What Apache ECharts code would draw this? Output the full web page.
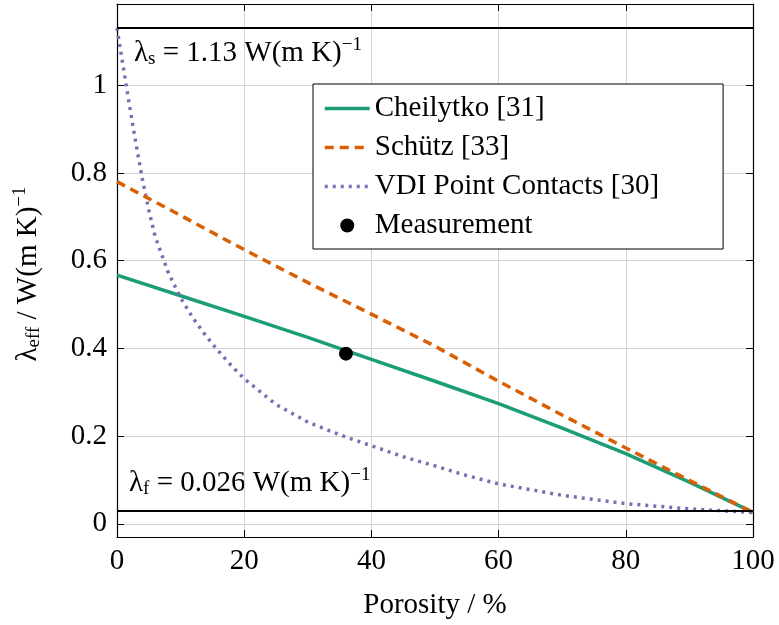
<!DOCTYPE html>
<html>
<head>
<meta charset="utf-8">
<script src="https://cdn.jsdelivr.net/npm/echarts@6/dist/echarts.min.js"></script>
<style>
  html, body { margin: 0; padding: 0; background: #fff; }
  #chart { width: 779px; height: 625px; }
</style>
</head>
<body>
<div id="chart"></div>
<script>
// porosity in %, conductivity in W/(m K)
const porosity = [0, 10, 20, 30, 40, 50, 60, 70, 80, 90, 100];
const cheilytko = [0.567, 0.52, 0.473, 0.425, 0.375, 0.325, 0.274, 0.218, 0.16, 0.095, 0.026];
const schutz = [0.78, 0.703, 0.625, 0.55, 0.478, 0.405, 0.325, 0.248, 0.173, 0.099, 0.026];
const vdiPorosity = [0, 1, 2, 3, 4, 5, 6, 8, 10, 12, 14, 16, 18, 20, 25, 30, 35, 40, 45, 50, 55, 60, 70, 80, 90, 100];
const vdi = [1.13, 1.04, 0.95, 0.865, 0.785, 0.715, 0.655, 0.575, 0.515, 0.468, 0.428, 0.393, 0.36, 0.331, 0.272, 0.232, 0.203, 0.178, 0.153, 0.132, 0.11, 0.091, 0.065, 0.046, 0.034, 0.026];
const measurement = [[36, 0.388]];
const lambdaS = 1.13;
const lambdaF = 0.026;
const yTicks = [0, 0.2, 0.4, 0.6, 0.8, 1];

const FONT = '"Liberation Serif", "DejaVu Serif", serif';
const pairs = (xs, ys) => xs.map((x, i) => [x, ys[i]]);

const rich = {
    m: { fontFamily: FONT, fontSize: 29, color: '#000' },
    sub: { fontFamily: FONT, fontSize: 19, color: '#000', padding: [12, 0, 0, 0] },
    sup: { fontFamily: FONT, fontSize: 19, color: '#000', padding: [0, 0, 16, 0] }
};

const chart = echarts.init(document.getElementById('chart'), null, { renderer: 'canvas' });

const frameAxis = {
    axisLine: { show: true, onZero: false, lineStyle: { color: '#000', width: 1.2 } },
    axisTick: { show: true, inside: true, length: 7, lineStyle: { color: '#000', width: 1 } }
};

// hide the symbol in the legend for pure line entries
const lineEntry = name => ({ name: name, itemStyle: { opacity: 0 }, lineStyle: { width: 3.5 } });

const option = {
    animation: false,
    backgroundColor: '#fff',
    textStyle: { fontFamily: FONT },
    grid: {
        left: 117, right: 26, top: 4, bottom: 88,
        containLabel: false,
        outerBoundsMode: 'none'
    },
    xAxis: [
        {
            type: 'value', min: 0, max: 100, interval: 20,
            position: 'bottom',
            ...frameAxis,
            axisLabel: { color: '#000', fontSize: 29, fontFamily: FONT, margin: 10 },
            splitLine: { show: true, lineStyle: { color: '#d4d4d4', width: 1 } },
            name: 'Porosity / %',
            nameLocation: 'middle',
            nameGap: 54,
            nameTextStyle: { color: '#000', fontSize: 29, fontFamily: FONT }
        },
        {
            type: 'value', min: 0, max: 100, interval: 20,
            position: 'top',
            ...frameAxis,
            axisLabel: { show: false },
            splitLine: { show: false }
        }
    ],
    yAxis: [
        {
            type: 'value', min: -0.03, max: 1.185, splitNumber: 6,
            position: 'left',
            ...frameAxis,
            axisLabel: {
                color: '#000', fontSize: 29, fontFamily: FONT, margin: 10,
                formatter: v => yTicks.some(t => Math.abs(t - v) < 1e-6) ? String(Math.round(v * 10) / 10) : ''
            },
            splitLine: { show: true, lineStyle: { color: '#d4d4d4', width: 1 } }
        },
        {
            type: 'value', min: -0.03, max: 1.185, splitNumber: 6,
            position: 'right',
            ...frameAxis,
            axisLabel: { show: false },
            splitLine: { show: false }
        }
    ],
    legend: {
        orient: 'vertical',
        left: 313,
        top: 84,
        padding: [10, 64, 9, 10],
        itemGap: 10,
        itemWidth: 45,
        itemHeight: 14,
        backgroundColor: '#fff',
        borderColor: '#000',
        borderWidth: 1,
        borderRadius: 0,
        textStyle: { color: '#000', fontSize: 29, fontFamily: FONT },
        data: [
            lineEntry('Cheilytko [31]'),
            lineEntry('Schütz [33]'),
            lineEntry('VDI Point Contacts [30]'),
            { name: 'Measurement' }
        ]
    },
    series: [
        {
            name: 'Cheilytko [31]',
            type: 'line',
            data: pairs(porosity, cheilytko),
            symbol: 'none',
            lineStyle: { color: '#1b9e77', width: 3.5 },
            itemStyle: { color: '#1b9e77' },
            z: 3
        },
        {
            name: 'Schütz [33]',
            type: 'line',
            data: pairs(porosity, schutz),
            symbol: 'none',
            lineStyle: { color: '#d95f02', width: 3.5, type: [9, 6] },
            itemStyle: { color: '#d95f02' },
            z: 4
        },
        {
            name: 'VDI Point Contacts [30]',
            type: 'line',
            data: pairs(vdiPorosity, vdi),
            symbol: 'none',
            lineStyle: { color: '#7570b3', width: 3.5, type: [3, 5] },
            itemStyle: { color: '#7570b3' },
            z: 3
        },
        {
            name: 'Measurement',
            type: 'scatter',
            data: measurement,
            symbol: 'circle',
            symbolSize: 14,
            itemStyle: { color: '#000', opacity: 1 },
            z: 6
        },
        {
            // reference lines for solid and fluid conductivity
            name: 'refs',
            type: 'line',
            data: [],
            markLine: {
                silent: true,
                symbol: 'none',
                label: { show: false },
                lineStyle: { color: '#000', width: 2, type: 'solid' },
                data: [{ yAxis: lambdaS }, { yAxis: lambdaF }]
            },
            z: 5
        }
    ],
    graphic: [
        {
            type: 'text',
            left: 134,
            top: 36,
            style: {
                text: '{m|λ}{sub|s}{m| = 1.13 W(m K)}{sup|−1}',
                rich: rich
            }
        },
        {
            type: 'text',
            left: 129,
            top: 466,
            style: {
                text: '{m|λ}{sub|f}{m| = 0.026 W(m K)}{sup|−1}',
                rich: rich
            }
        },
        {
            type: 'text',
            x: 28,
            y: 274,
            rotation: Math.PI / 2,
            style: {
                text: '{m|λ}{sub|eff}{m| / W(m K)}{sup|−1}',
                rich: rich,
                align: 'center',
                verticalAlign: 'middle'
            }
        }
    ]
};

chart.setOption(option);
window.addEventListener('resize', () => chart.resize());
</script>
</body>
</html>
